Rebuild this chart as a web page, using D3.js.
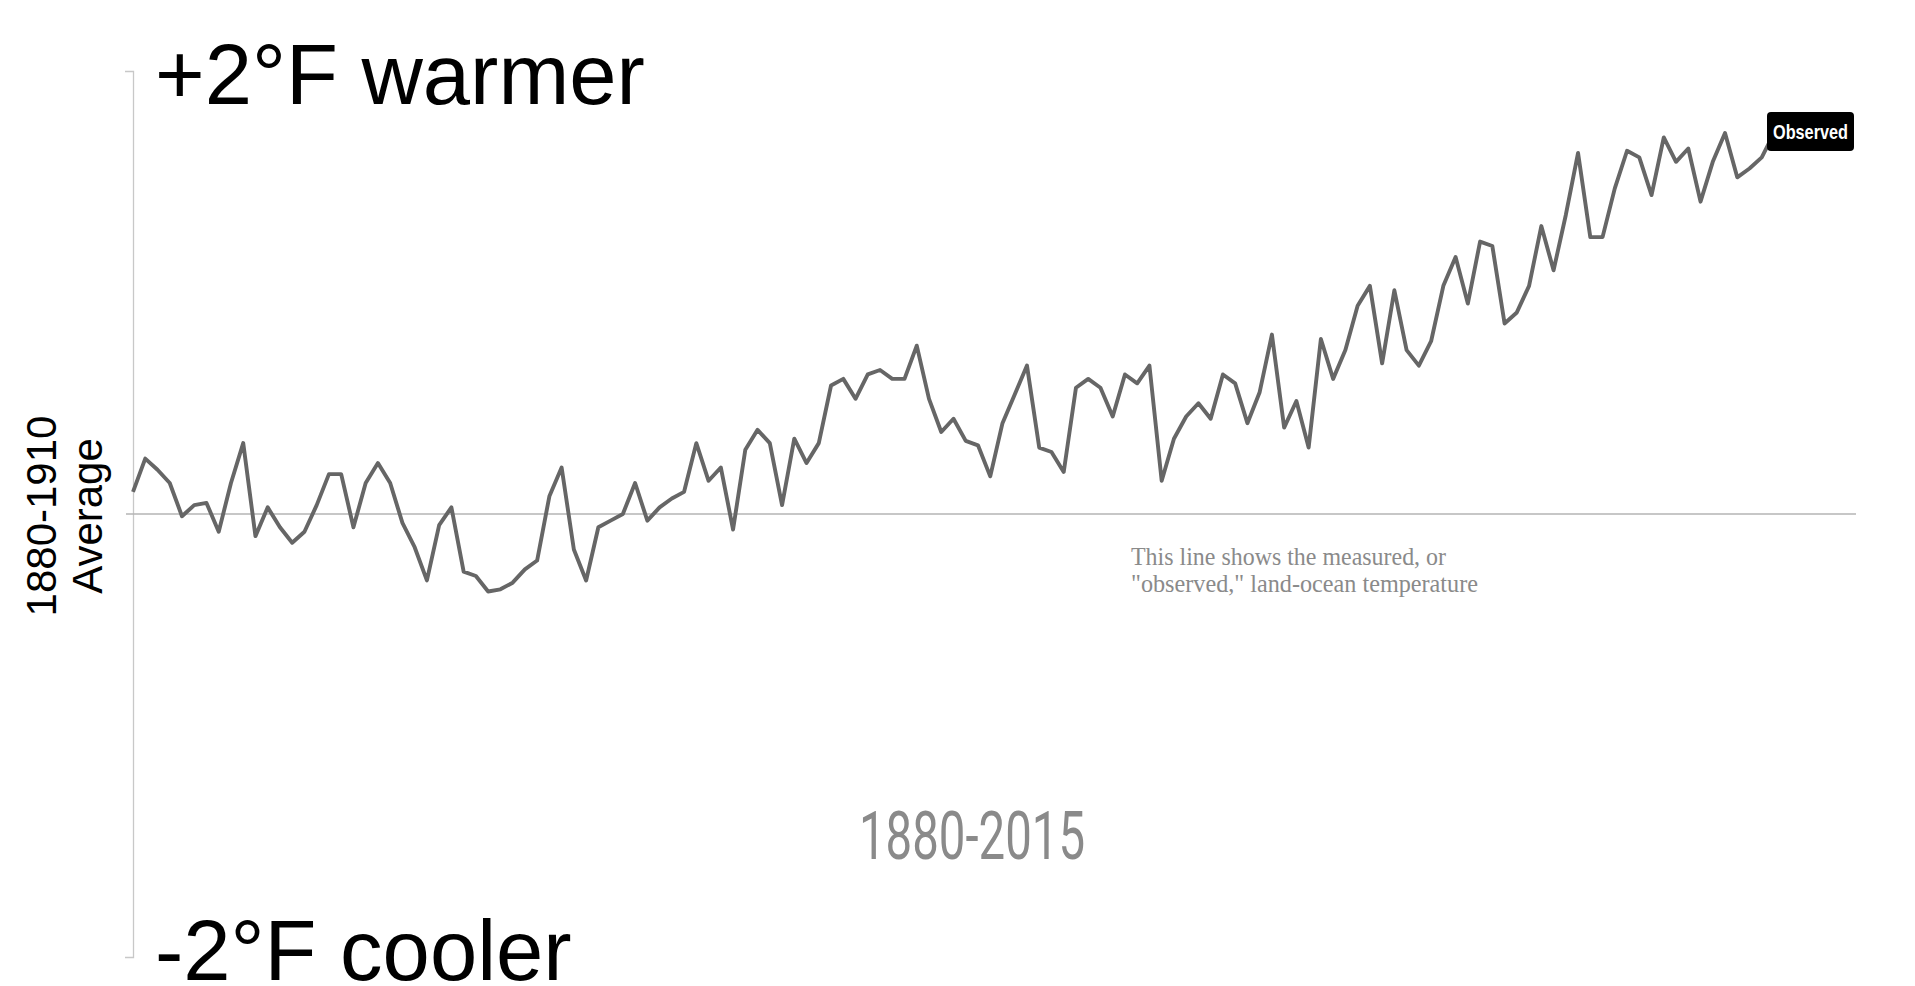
<!DOCTYPE html>
<html>
<head>
<meta charset="utf-8">
<script src="https://d3js.org/d3.v7.min.js"></script>
<style>
  body { margin: 0; background: #fff; }
  .big-label { font-family: "Liberation Sans", Arial, sans-serif; font-size: 85px; fill: #000; }
  .axis-title { font-family: "Liberation Sans", Arial, sans-serif; font-size: 42px; fill: #000; }
  .period { font-family: Roboto, "Liberation Sans", sans-serif; font-weight: 400; font-size: 66px; fill: #8a8a8a; }
  .note { font-family: "Liberation Serif", "DejaVu Serif", serif; font-size: 26px; fill: #8a8a8a; }
  .tag { font-family: "Liberation Sans", Arial, sans-serif; font-weight: bold; font-size: 21px; fill: #fff; }
</style>
</head>
<body>
<svg id="chart"></svg>
<script>
    // observed land-ocean temperature, °F relative to the 1880-1910 average
    var years = [1880, 1881, 1882, 1883, 1884, 1885, 1886, 1887, 1888, 1889,
                 1890, 1891, 1892, 1893, 1894, 1895, 1896, 1897, 1898, 1899,
                 1900, 1901, 1902, 1903, 1904, 1905, 1906, 1907, 1908, 1909,
                 1910, 1911, 1912, 1913, 1914, 1915, 1916, 1917, 1918, 1919,
                 1920, 1921, 1922, 1923, 1924, 1925, 1926, 1927, 1928, 1929,
                 1930, 1931, 1932, 1933, 1934, 1935, 1936, 1937, 1938, 1939,
                 1940, 1941, 1942, 1943, 1944, 1945, 1946, 1947, 1948, 1949,
                 1950, 1951, 1952, 1953, 1954, 1955, 1956, 1957, 1958, 1959,
                 1960, 1961, 1962, 1963, 1964, 1965, 1966, 1967, 1968, 1969,
                 1970, 1971, 1972, 1973, 1974, 1975, 1976, 1977, 1978, 1979,
                 1980, 1981, 1982, 1983, 1984, 1985, 1986, 1987, 1988, 1989,
                 1990, 1991, 1992, 1993, 1994, 1995, 1996, 1997, 1998, 1999,
                 2000, 2001, 2002, 2003, 2004, 2005, 2006, 2007, 2008, 2009,
                 2010, 2011, 2012, 2013, 2014];
    var observed = [0.10, 0.25, 0.20, 0.14, -0.01, 0.04, 0.05, -0.08, 0.14, 0.32,
                    -0.10, 0.03, -0.06, -0.13, -0.08, 0.04, 0.18, 0.18, -0.06, 0.14,
                    0.23, 0.14, -0.04, -0.15, -0.30, -0.05, 0.03, -0.26, -0.28, -0.35,
                    -0.34, -0.31, -0.25, -0.21, 0.08, 0.21, -0.16, -0.30, -0.06, -0.03,
                    0.00, 0.14, -0.03, 0.03, 0.07, 0.10, 0.32, 0.15, 0.21, -0.07,
                    0.29, 0.38, 0.32, 0.04, 0.34, 0.23, 0.32, 0.58, 0.61, 0.52,
                    0.63, 0.65, 0.61, 0.61, 0.76, 0.52, 0.37, 0.43, 0.33, 0.31,
                    0.17, 0.41, 0.54, 0.67, 0.30, 0.28, 0.19, 0.57, 0.61, 0.57,
                    0.44, 0.63, 0.59, 0.67, 0.15, 0.34, 0.44, 0.50, 0.43, 0.63,
                    0.59, 0.41, 0.55, 0.81, 0.39, 0.51, 0.30, 0.79, 0.61, 0.74,
                    0.94, 1.03, 0.68, 1.01, 0.74, 0.67, 0.78, 1.03, 1.16, 0.95,
                    1.23, 1.21, 0.86, 0.91, 1.03, 1.30, 1.10, 1.35, 1.63, 1.25,
                    1.25, 1.47, 1.64, 1.61, 1.44, 1.70, 1.59, 1.65, 1.41, 1.59,
                    1.72, 1.52, 1.56, 1.61, 1.72];
    var yTickValues = [2, -2];
    var yTickLabels = ["+2°F warmer", "-2°F cooler"];
    var yAxisTitle = ["1880-1910", "Average"];
    var periodLabel = "1880-2015";
    var noteLines = ["This line shows the measured, or", "\"observed,\" land-ocean temperature"];
    var seriesName = "Observed";

    var width = 1915, height = 986;
    var margin = {top: 71, right: 141, bottom: 29, left: 133};

    var svg = d3.select("#chart")
        .attr("width", width)
        .attr("height", height);

    var data = years.map((yr, i) => ({year: yr, value: observed[i]}));

    var x = d3.scaleLinear()
        .domain([years[0], years[years.length - 1]])
        .range([margin.left, width - margin.right]);
    var y = d3.scaleLinear()
        .domain([-2, 2])
        .range([height - margin.bottom, margin.top]);

    // left axis, only the two end ticks
    var yAxis = svg.append("g")
        .attr("transform", "translate(" + margin.left + ",0)")
        .call(d3.axisLeft(y).tickValues(yTickValues).tickSizeInner(0).tickSizeOuter(8).tickFormat(""));
    yAxis.select(".domain").attr("stroke", "#c8c8c8").attr("stroke-width", 1.3);
    yAxis.selectAll(".tick line").remove();

    // baseline at the 1880-1910 average
    svg.append("line")
        .attr("x1", margin.left - 7)
        .attr("x2", 1856)
        .attr("y1", y(0))
        .attr("y2", y(0))
        .attr("stroke", "#b4b4b4")
        .attr("stroke-width", 1.5);

    svg.append("path")
        .datum(data)
        .attr("fill", "none")
        .attr("stroke", "#666")
        .attr("stroke-width", 3.9)
        .attr("stroke-linejoin", "round")
        .attr("d", d3.line().x(d => x(d.year)).y(d => y(d.value)));

    // end tick labels
    svg.append("text")
        .attr("class", "big-label")
        .attr("x", 155)
        .attr("y", y(yTickValues[0]) + 33)
        .text(yTickLabels[0]);
    svg.append("text")
        .attr("class", "big-label")
        .attr("x", 155)
        .attr("y", y(yTickValues[1]) + 23)
        .text(yTickLabels[1]);

    // rotated axis title
    yAxisTitle.forEach((t, i) => {
        svg.append("text")
            .attr("class", "axis-title")
            .attr("text-anchor", "middle")
            .attr("transform", "translate(" + (56 + i * 46) + "," + (y(0) + 2) + ") rotate(-90)")
            .text(t);
    });

    svg.append("text")
        .attr("class", "period")
        .attr("x", 859)
        .attr("y", 859)
        .attr("textLength", 226)
        .attr("lengthAdjust", "spacingAndGlyphs")
        .text(periodLabel);

    noteLines.forEach((t, i) => {
        svg.append("text")
            .attr("class", "note")
            .attr("x", 1131)
            .attr("y", 565 + i * 27)
            .attr("textLength", i === 0 ? 315 : 347)
            .attr("lengthAdjust", "spacingAndGlyphs")
            .text(t);
    });

    // series tag at the end of the line
    var last = data[data.length - 1];
    var tag = svg.append("g")
        .attr("transform", "translate(" + (x(last.year) - 7) + "," + (y(last.value) - 21) + ")");
    tag.append("rect")
        .attr("width", 87)
        .attr("height", 39)
        .attr("rx", 4)
        .attr("fill", "#000");
    tag.append("text")
        .attr("class", "tag")
        .attr("x", 6)
        .attr("y", 27)
        .attr("textLength", 75)
        .attr("lengthAdjust", "spacingAndGlyphs")
        .text(seriesName);
</script>
</body>
</html>
